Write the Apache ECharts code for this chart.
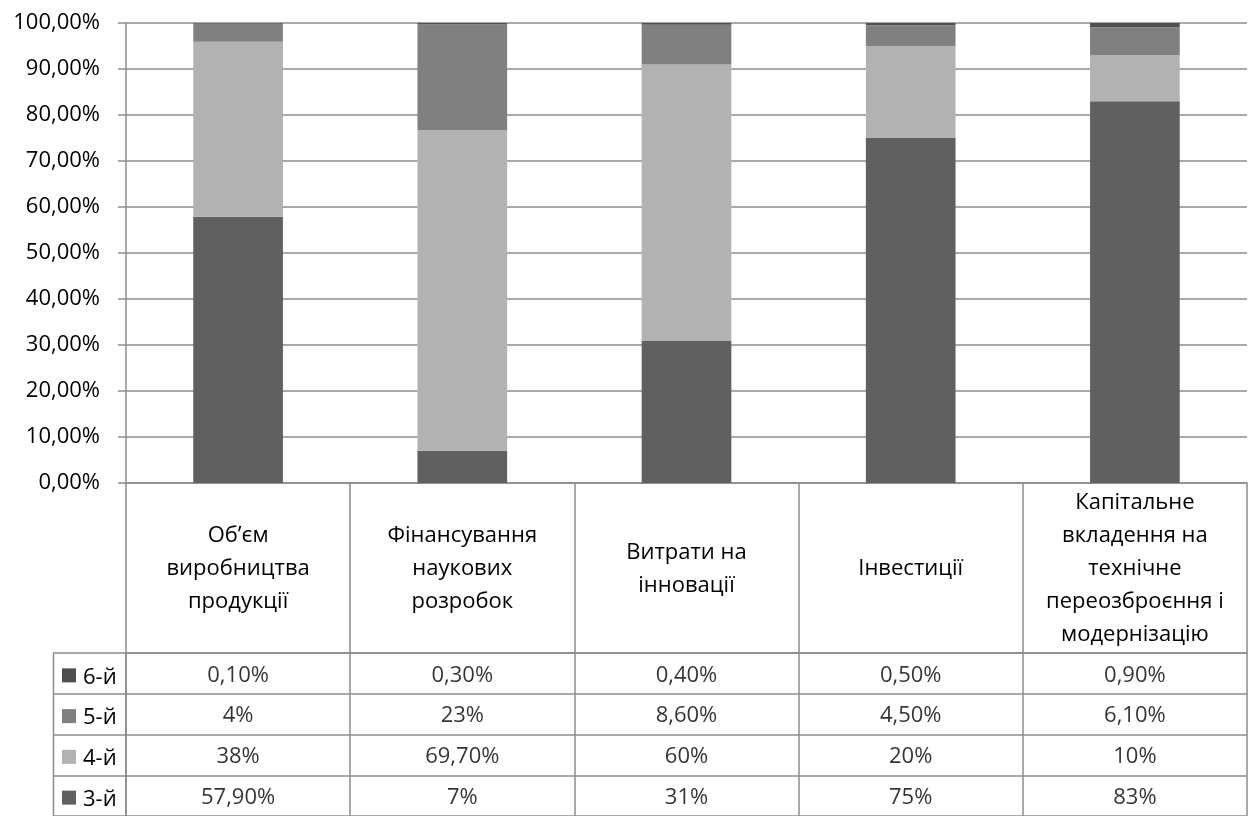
<!DOCTYPE html>
<html>
<head>
<meta charset="utf-8">
<script src="https://cdn.jsdelivr.net/npm/echarts@6/dist/echarts.min.js"></script>
<style>
  html, body { margin: 0; padding: 0; background: #fff; }
  #chart { width: 1250px; height: 816px; }
</style>
</head>
<body>
<div id="chart"></div>
<script>
// Categories (column headers of the data table)
const categories = [
  'Об’єм\nвиробництва\nпродукції',
  'Фінансування\nнаукових\nрозробок',
  'Витрати на\nінновації',
  'Інвестиції',
  'Капітальне\nвкладення на\nтехнічне\nпереозброєння і\nмодернізацію'
];

// Series names, bottom of the stack first
const seriesNames = ['3-й', '4-й', '5-й', '6-й'];

// Shares, %
const share3 = [57.9, 7, 31, 75, 83];
const share4 = [38, 69.7, 60, 20, 10];
const share5 = [4, 23, 8.6, 4.5, 6.1];
const share6 = [0.1, 0.3, 0.4, 0.5, 0.9];

// Decimal places shown for each value in the table
const digits3 = [2, 0, 0, 0, 0];
const digits4 = [0, 2, 0, 0, 0];
const digits5 = [0, 0, 2, 2, 2];
const digits6 = [2, 2, 2, 2, 2];

// Y axis ticks
const yMin = 0, yMax = 100, yStep = 10;

const shares = [share3, share4, share5, share6];
const digits = [digits3, digits4, digits5, digits6];
const colors = ['#606060', '#b2b2b2', '#808080', '#4f4f4f'];

const FONT = 'Open Sans';
const FS = 22;
const LINE = '#8c8c8c';
const LW = 1.5;

const fmtPct = (v, d) => v.toFixed(d).replace('.', ',') + '%';

const barSeries = seriesNames.map((name, s) => ({
  name,
  type: 'bar',
  stack: 'total',
  xAxisIndex: 0,
  yAxisIndex: 0,
  barCategoryGap: '60%',
  itemStyle: { color: colors[s] },
  data: shares[s]
}));

// Table rows: one invisible scatter per series carrying the cell text
const cellSeries = seriesNames.map((name, s) => ({
  type: 'scatter',
  xAxisIndex: 1,
  yAxisIndex: 1,
  symbolSize: 0,
  silent: true,
  data: shares[s].map((v, i) => [i, name, v, digits[s][i]]),
  label: {
    show: true,
    position: 'inside',
    offset: [0, 2],
    fontFamily: FONT,
    fontSize: FS,
    color: '#000',
    formatter: p => fmtPct(p.data[2], p.data[3])
  }
}));

// Legend keys inside the table's first column
const keyRich = {};
seriesNames.forEach((n, s) => {
  keyRich['k' + s] = {
    width: 14, height: 14, backgroundColor: colors[s], verticalAlign: 'middle'
  };
});
keyRich.n = {
  fontFamily: FONT, fontSize: FS, color: '#000', lineHeight: 26,
  verticalAlign: 'middle', padding: [4, 0, 0, 7]
};

const chart = echarts.init(document.getElementById('chart'), null, { renderer: 'canvas' });

chart.setOption({
  animation: false,
  backgroundColor: '#fff',
  grid: [
    { left: 126, right: 3, top: 23, height: 460, containLabel: false },
    { left: 126, right: 3, top: 653, height: 167, containLabel: false }
  ],
  xAxis: [
    {
      type: 'category',
      gridIndex: 0,
      data: categories,
      axisLine: { show: true, lineStyle: { color: LINE, width: LW } },
      axisTick: { show: true, length: 170, lineStyle: { color: LINE, width: LW } },
      axisLabel: {
        interval: 0,
        margin: 86,
        verticalAlign: 'middle',
        fontFamily: FONT,
        fontSize: FS,
        lineHeight: 33,
        color: '#000'
      },
      splitLine: { show: false }
    },
    {
      type: 'category',
      gridIndex: 1,
      position: 'top',
      data: categories,
      axisLine: { show: true, lineStyle: { color: LINE, width: LW } },
      axisTick: { show: false },
      axisLabel: { show: false },
      splitLine: { show: true, interval: 0, lineStyle: { color: LINE, width: LW } }
    }
  ],
  yAxis: [
    {
      type: 'value',
      gridIndex: 0,
      min: yMin,
      max: yMax,
      interval: yStep,
      axisLine: { show: true, lineStyle: { color: LINE, width: LW } },
      axisTick: { show: true, length: 8, lineStyle: { color: LINE, width: LW } },
      splitLine: { show: true, lineStyle: { color: LINE, width: LW } },
      axisLabel: {
        margin: 26,
        fontFamily: FONT,
        fontSize: FS,
        color: '#000',
        formatter: v => fmtPct(v, 2)
      }
    },
    {
      type: 'category',
      gridIndex: 1,
      data: seriesNames,
      axisLine: { show: true, lineStyle: { color: LINE, width: LW } },
      axisTick: { show: true, length: 73, lineStyle: { color: LINE, width: LW } },
      splitLine: { show: true, interval: 0, lineStyle: { color: LINE, width: LW } },
      axisLabel: {
        margin: 64,
        align: 'left',
        verticalAlign: 'middle',
        padding: [4, 0, 0, 0],
        formatter: (v, i) => '{k' + i + '|}{n|' + v + '}',
        rich: keyRich
      }
    }
  ],
  graphic: [
    {
      type: 'line',
      shape: { x1: 53.5, y1: 653, x2: 53.5, y2: 820 },
      style: { stroke: LINE, lineWidth: LW }
    }
  ],
  series: barSeries.concat(cellSeries)
});
</script>
</body>
</html>
